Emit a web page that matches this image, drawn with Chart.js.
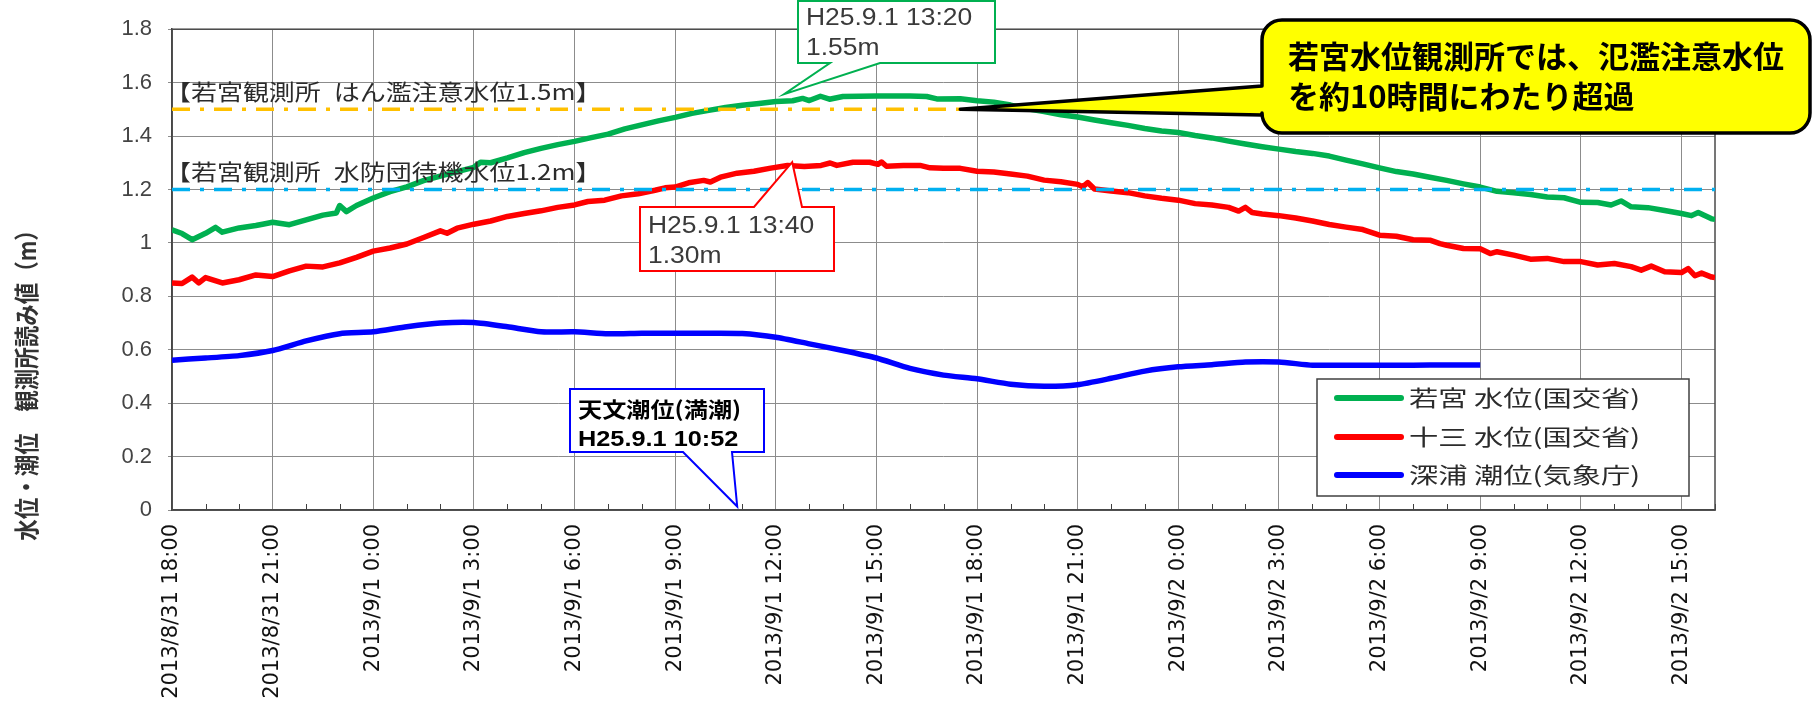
<!DOCTYPE html>
<html lang="ja">
<head>
<meta charset="utf-8">
<title>若宮・十三 水位と深浦 潮位</title>
<script src="https://cdn.jsdelivr.net/npm/chart.js@4.4.1/dist/chart.umd.min.js"></script>
<style>
  html, body { margin: 0; padding: 0; background: #fff; }
  #wrap { position: relative; width: 1814px; height: 714px; }
</style>
</head>
<body>
<div id="wrap"><canvas id="levelChart"></canvas></div>
<script>
// x is in hours counted from 2013/8/31 18:00
const tickHours = [0, 3, 6, 9, 12, 15, 18, 21, 24, 27, 30, 33, 36, 39, 42, 45];
const xTickLabels = [
    "2013/8/31 18:00", "2013/8/31 21:00",
    "2013/9/1 0:00", "2013/9/1 3:00", "2013/9/1 6:00", "2013/9/1 9:00",
    "2013/9/1 12:00", "2013/9/1 15:00", "2013/9/1 18:00", "2013/9/1 21:00",
    "2013/9/2 0:00", "2013/9/2 3:00", "2013/9/2 6:00", "2013/9/2 9:00",
    "2013/9/2 12:00", "2013/9/2 15:00"
];
const yTickValues = [0, 0.2, 0.4, 0.6, 0.8, 1, 1.2, 1.4, 1.6, 1.8];
const yTickLabels = ["0", "0.2", "0.4", "0.6", "0.8", "1", "1.2", "1.4", "1.6", "1.8"];

const seriesNames = ["若宮 水位(国交省)", "十三 水位(国交省)", "深浦 潮位(気象庁)"];

// 若宮 水位
const wakamiyaHours = [
    0, 0.3, 0.6, 1, 1.3, 1.5, 2, 2.5, 2.7, 3, 3.5, 4, 4.5, 4.9, 5, 5.2, 5.5, 6, 6.5, 7,
    7.5, 8, 8.5, 9, 9.2, 9.5, 10, 10.5, 11, 11.5, 12, 12.5, 13, 13.5, 14, 14.5, 15, 15.5,
    16, 16.5, 17, 17.5, 18, 18.5, 18.8, 19, 19.33, 19.6, 20, 21, 22, 22.5, 22.8, 23.5,
    24, 24.5, 25, 25.5, 26, 26.5, 27, 27.5, 28, 28.5, 29, 29.5, 30, 30.5, 31, 31.5, 32,
    32.5, 33, 33.5, 34, 34.5, 35, 35.5, 36, 36.5, 37, 37.5, 38, 38.5, 39, 39.5, 40, 40.5,
    41, 41.5, 42, 42.5, 42.9, 43.2, 43.5, 44, 44.5, 45, 45.3, 45.5, 45.9, 46
];
const wakamiyaLevel = [
    1.049, 1.035, 1.012, 1.036, 1.058, 1.040, 1.056, 1.065, 1.070, 1.077, 1.068, 1.086,
    1.104, 1.112, 1.140, 1.117, 1.140, 1.168, 1.192, 1.210, 1.233, 1.250, 1.267, 1.283,
    1.302, 1.300, 1.318, 1.338, 1.354, 1.368, 1.380, 1.394, 1.407, 1.427, 1.442, 1.457,
    1.470, 1.485, 1.496, 1.507, 1.515, 1.522, 1.529, 1.532, 1.541, 1.533, 1.549, 1.538,
    1.548, 1.550, 1.550, 1.548, 1.539, 1.540, 1.532, 1.527, 1.516, 1.502, 1.492, 1.480,
    1.471, 1.460, 1.450, 1.440, 1.428, 1.419, 1.413, 1.402, 1.393, 1.381, 1.370, 1.360,
    1.351, 1.342, 1.335, 1.325, 1.310, 1.296, 1.281, 1.267, 1.258, 1.246, 1.234, 1.221,
    1.209, 1.193, 1.188, 1.181, 1.172, 1.169, 1.152, 1.151, 1.142, 1.157, 1.135, 1.132,
    1.121, 1.110, 1.102, 1.114, 1.090, 1.088
];

// 十三 水位
const jusanHours = [
    0, 0.3, 0.6, 0.8, 1, 1.5, 2, 2.5, 3, 3.5, 4, 4.5, 5, 5.5, 6, 6.5, 7, 7.5, 8, 8.2,
    8.5, 9, 9.5, 10, 10.5, 11, 11.5, 12, 12.4, 12.9, 13.4, 13.9, 14.4, 14.7, 15, 15.4,
    15.85, 16.05, 16.35, 16.85, 17.35, 17.85, 18.35, 18.85, 19.35, 19.62, 19.82, 20.3,
    20.8, 21.05, 21.15, 21.3, 21.8, 22.3, 22.6, 23, 23.5, 24, 24.5, 25, 25.5, 26, 26.5,
    27, 27.15, 27.3, 27.5, 28, 28.5, 29, 29.5, 30, 30.5, 31, 31.5, 31.8, 32, 32.2, 32.5,
    33, 33.5, 34, 34.5, 35, 35.5, 36, 36.5, 37, 37.5, 37.8, 38, 38.5, 39, 39.3, 39.5, 40,
    40.5, 41, 41.5, 42, 42.5, 43, 43.5, 43.8, 44.1, 44.5, 45, 45.2, 45.4, 45.6, 45.9, 46
];
const jusanLevel = [
    0.850, 0.848, 0.872, 0.850, 0.870, 0.850, 0.862, 0.880, 0.874, 0.895, 0.913, 0.910,
    0.925, 0.946, 0.969, 0.981, 0.996, 1.020, 1.045, 1.036, 1.055, 1.070, 1.082, 1.099,
    1.110, 1.120, 1.133, 1.142, 1.155, 1.160, 1.176, 1.184, 1.197, 1.206, 1.209, 1.225,
    1.234, 1.228, 1.246, 1.261, 1.268, 1.280, 1.290, 1.286, 1.290, 1.299, 1.290, 1.302,
    1.302, 1.294, 1.303, 1.287, 1.290, 1.290, 1.281, 1.279, 1.279, 1.268, 1.265, 1.258,
    1.250, 1.235, 1.229, 1.219, 1.210, 1.226, 1.202, 1.194, 1.188, 1.176, 1.167, 1.160,
    1.147, 1.142, 1.133, 1.119, 1.133, 1.114, 1.108, 1.102, 1.093, 1.082, 1.069, 1.059,
    1.050, 1.029, 1.025, 1.012, 1.010, 0.997, 0.991, 0.979, 0.978, 0.960, 0.967, 0.954,
    0.939, 0.942, 0.930, 0.930, 0.917, 0.923, 0.911, 0.898, 0.913, 0.892, 0.889, 0.904,
    0.877, 0.887, 0.872, 0.870
];

// 深浦 潮位 (hourly)
const fukauraHours = [
    0, 1, 2, 3, 4, 5, 6, 7, 8, 9, 10, 11, 12, 13, 14, 15, 16, 17, 18, 19, 20,
    21, 22, 23, 24, 25, 26, 27, 28, 29, 30, 31, 32, 33, 34, 35, 36, 37, 38, 39
];
const fukauraTide = [
    0.561, 0.569, 0.578, 0.597, 0.633, 0.660, 0.667, 0.686, 0.700, 0.702, 0.686,
    0.667, 0.667, 0.660, 0.662, 0.662, 0.662, 0.661, 0.647, 0.622, 0.597, 0.569,
    0.530, 0.505, 0.491, 0.471, 0.463, 0.469, 0.493, 0.520, 0.536, 0.544, 0.554,
    0.554, 0.542, 0.542, 0.542, 0.542, 0.543, 0.543
];

const thresholdLevels = [1.5, 1.2];
const thresholdLabels = ["【若宮観測所\u2002はん濫注意水位1.5m】", "【若宮観測所\u2002水防団待機水位1.2m】"];

const CJK = '"Noto Sans CJK JP", "Noto Sans CJK SC", sans-serif';
const LATIN = '"Liberation Sans", Arial, sans-serif';
const SX = 1.15; // the source chart is stretched sideways a little

function toPoints(hours, values) {
    return hours.map((h, i) => ({ x: h, y: values[i] }));
}

function drawStretched(ctx, text, x, y, font, color, sx) {
    ctx.save();
    ctx.font = font;
    ctx.fillStyle = color;
    ctx.textBaseline = "middle";
    ctx.textAlign = "left";
    ctx.translate(x, y);
    ctx.scale(sx, 1);
    ctx.fillText(text, 0, 0);
    ctx.restore();
}

// box callout with a pointed tail on its top or bottom edge
function drawCallout(ctx, c, tip) {
    const { left, top, right, bottom } = c.box;
    ctx.save();
    ctx.beginPath();
    if (c.side === "bottom") {
        ctx.moveTo(left, top);
        ctx.lineTo(right, top);
        ctx.lineTo(right, bottom);
        ctx.lineTo(c.base[1], bottom);
        ctx.lineTo(tip.x, tip.y);
        ctx.lineTo(c.base[0], bottom);
        ctx.lineTo(left, bottom);
    } else {
        ctx.moveTo(left, top);
        ctx.lineTo(c.base[0], top);
        ctx.lineTo(tip.x, tip.y);
        ctx.lineTo(c.base[1], top);
        ctx.lineTo(right, top);
        ctx.lineTo(right, bottom);
        ctx.lineTo(left, bottom);
    }
    ctx.closePath();
    ctx.fillStyle = "#fff";
    ctx.fill();
    ctx.lineWidth = 2;
    ctx.lineJoin = "miter";
    ctx.strokeStyle = c.color;
    ctx.stroke();
    ctx.restore();
    c.lines.forEach((ln, i) => {
        drawStretched(ctx, ln.text, left + 8, c.lineY[i], ln.font, ln.color, SX);
    });
}

const callouts = [
    {
        tip: { x: 18.25, y: 1.557 }, color: "#00B050", side: "bottom",
        box: { left: 798, top: 1, right: 995, bottom: 63 }, base: [830, 880],
        lineY: [19, 49],
        lines: [
            { text: "H25.9.1 13:20", font: "23px " + LATIN, color: "#3a3a3a" },
            { text: "1.55m", font: "23px " + LATIN, color: "#3a3a3a" }
        ]
    },
    {
        tip: { x: 18.49, y: 1.302 }, color: "#FF0000", side: "top",
        box: { left: 640, top: 207, right: 834, bottom: 271 }, base: [754, 802],
        lineY: [227, 257],
        lines: [
            { text: "H25.9.1 13:40", font: "23px " + LATIN, color: "#3a3a3a" },
            { text: "1.30m", font: "23px " + LATIN, color: "#3a3a3a" }
        ]
    },
    {
        tip: { x: 16.85, y: 0.013 }, color: "#0000FF", side: "bottom",
        box: { left: 570, top: 389, right: 764, bottom: 452 }, base: [683, 732],
        lineY: [409, 440],
        lines: [
            { text: "天文潮位(満潮)", font: "bold 21px " + CJK, color: "#000" },
            { text: "H25.9.1 10:52", font: "bold 22px " + LATIN, color: "#000" }
        ]
    }
];

const decorPlugin = {
    id: "decor",
    beforeDatasetsDraw(chart) {
        const { ctx, chartArea: a, scales } = chart;
        ctx.save();
        // small hourly ticks inside the bottom axis
        ctx.strokeStyle = "#404040";
        ctx.lineWidth = 1;
        for (let h = scales.x.min; h <= scales.x.max; h++) {
            if (h % 3 === 0) continue;
            const px = Math.round(scales.x.getPixelForValue(h)) + 0.5;
            ctx.beginPath();
            ctx.moveTo(px, a.bottom);
            ctx.lineTo(px, a.bottom - 6);
            ctx.stroke();
        }
        ctx.strokeStyle = "#4a4a4a";
        ctx.lineWidth = 1.5;
        ctx.strokeRect(a.left, a.top, a.right - a.left, a.bottom - a.top);
        ctx.restore();
    },
    afterDatasetsDraw(chart) {
        const { ctx, scales } = chart;
        thresholdLevels.forEach((lv, i) => {
            const py = scales.y.getPixelForValue(lv) - 18;
            drawStretched(ctx, thresholdLabels[i], 165, py, "22px " + CJK, "#2b2b2b", 1.18);
        });
    },
    afterDraw(chart) {
        const { ctx, scales } = chart;

        callouts.forEach(c => {
            const tip = { x: scales.x.getPixelForValue(c.tip.x), y: scales.y.getPixelForValue(c.tip.y) };
            drawCallout(ctx, c, tip);
        });

        // yellow note pointing at the 1.5 m line
        const tipX = scales.x.getPixelForValue(23.5);
        const tipY = scales.y.getPixelForValue(1.5);
        const L = 1262, T = 20, R = 1810, B = 133, r = 20;
        ctx.save();
        ctx.beginPath();
        ctx.moveTo(L + r, T);
        ctx.lineTo(R - r, T);
        ctx.arcTo(R, T, R, T + r, r);
        ctx.lineTo(R, B - r);
        ctx.arcTo(R, B, R - r, B, r);
        ctx.lineTo(L + r, B);
        ctx.arcTo(L, B, L, B - r, r);
        ctx.lineTo(L, 115);
        ctx.lineTo(tipX, tipY);
        ctx.lineTo(L, 86);
        ctx.lineTo(L, T + r);
        ctx.arcTo(L, T, L + r, T, r);
        ctx.closePath();
        ctx.fillStyle = "#FFFF00";
        ctx.fill();
        ctx.lineWidth = 3.5;
        ctx.lineJoin = "round";
        ctx.strokeStyle = "#000";
        ctx.stroke();
        ctx.restore();
        drawStretched(ctx, "若宮水位観測所では、氾濫注意水位", 1288, 56, "bold 31px " + CJK, "#000", 1);
        drawStretched(ctx, "を約10時間にわたり超過", 1288, 96, "bold 31px " + CJK, "#000", 1);

        // legend box inside the plot
        ctx.save();
        ctx.fillStyle = "#fff";
        ctx.fillRect(1317, 379, 372, 117);
        ctx.strokeStyle = "#404040";
        ctx.lineWidth = 1.5;
        ctx.strokeRect(1317, 379, 372, 117);
        const rowY = [398, 437, 475];
        chart.data.datasets.slice(0, 3).forEach((ds, i) => {
            ctx.strokeStyle = ds.borderColor;
            ctx.lineWidth = 6;
            ctx.lineCap = "round";
            ctx.beginPath();
            ctx.moveTo(1337, rowY[i]);
            ctx.lineTo(1401, rowY[i]);
            ctx.stroke();
            drawStretched(ctx, ds.label, 1409, rowY[i], "22px " + CJK, "#2b2b2b", 1.33);
        });
        ctx.restore();

        // y axis title, written bottom to top
        ctx.save();
        ctx.translate(27, 380);
        ctx.rotate(-Math.PI / 2);
        ctx.scale(1, SX);
        ctx.font = "bold 21.5px " + CJK;
        ctx.fillStyle = "#333";
        ctx.textAlign = "center";
        ctx.textBaseline = "middle";
        ctx.fillText("水位・潮位　観測所読み値（m）", 0, 0);
        ctx.restore();
    }
};

const ctx = document.getElementById("levelChart").getContext("2d");

new Chart(ctx, {
    type: "line",
    data: {
        datasets: [
            {
                label: seriesNames[0],
                data: toPoints(wakamiyaHours, wakamiyaLevel),
                borderColor: "#00B050",
                borderWidth: 5.5,
                order: 3
            },
            {
                label: seriesNames[1],
                data: toPoints(jusanHours, jusanLevel),
                borderColor: "#FF0000",
                borderWidth: 5.5,
                order: 2
            },
            {
                label: seriesNames[2],
                data: toPoints(fukauraHours, fukauraTide),
                borderColor: "#0000FF",
                borderWidth: 5.5,
                tension: 0.2,
                order: 1
            },
            {
                label: "はん濫注意水位",
                data: [{ x: 0, y: thresholdLevels[0] }, { x: 46, y: thresholdLevels[0] }],
                borderColor: "#FFC000",
                borderWidth: 3.5,
                borderDash: [18, 10, 4, 10],
                order: 0
            },
            {
                label: "水防団待機水位",
                data: [{ x: 0, y: thresholdLevels[1] }, { x: 46, y: thresholdLevels[1] }],
                borderColor: "#00B0F0",
                borderWidth: 3.5,
                borderDash: [18, 10, 4, 10],
                order: 0
            }
        ]
    },
    options: {
        responsive: true,
        maintainAspectRatio: false,
        animation: false,
        layout: { padding: { top: 22, right: 99, bottom: 0, left: 0 } },
        elements: {
            point: { radius: 0, hoverRadius: 0 },
            line: { borderJoinStyle: "round", borderCapStyle: "butt" }
        },
        plugins: {
            legend: { display: false },
            tooltip: { enabled: false }
        },
        scales: {
            x: {
                type: "linear",
                min: 0,
                max: 46,
                afterBuildTicks: axis => { axis.ticks = tickHours.map(v => ({ value: v })); },
                afterFit: axis => { axis.height = 204; },
                grid: { color: "#8c8c8c", lineWidth: 1, drawTicks: false },
                border: { color: "#404040", width: 1.5 },
                ticks: {
                    autoSkip: false,
                    minRotation: 90,
                    maxRotation: 90,
                    padding: 14,
                    color: "#111",
                    font: { family: '"DejaVu Sans", sans-serif', size: 21 },
                    callback: (value, index) => xTickLabels[index]
                }
            },
            y: {
                min: 0,
                max: 1.8,
                afterBuildTicks: axis => { axis.ticks = yTickValues.map(v => ({ value: v })); },
                afterFit: axis => { axis.width = 172; },
                grid: { color: "#8c8c8c", lineWidth: 1, tickLength: 4 },
                border: { color: "#404040", width: 1.5 },
                ticks: {
                    padding: 16,
                    color: "#444",
                    font: { family: '"Liberation Sans", Arial, sans-serif', size: 22 },
                    callback: (value, index) => yTickLabels[index]
                }
            }
        }
    },
    plugins: [decorPlugin]
});
</script>
</body>
</html>
